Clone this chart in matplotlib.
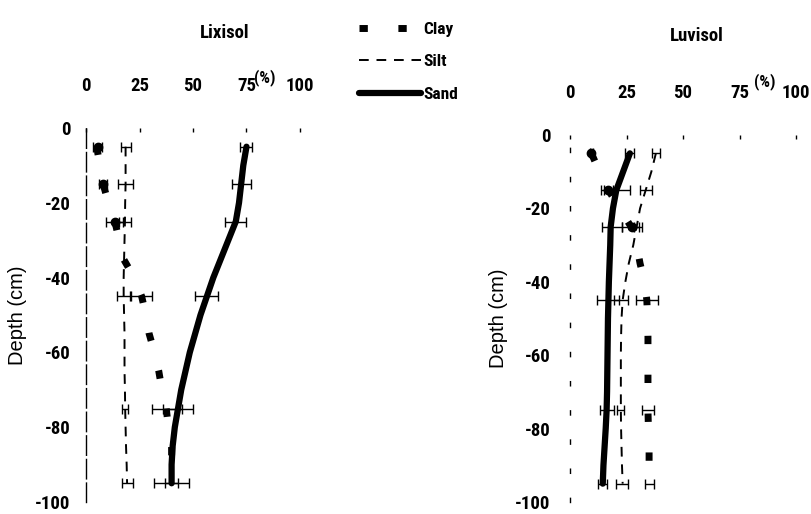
import matplotlib
matplotlib.use("Agg")
import matplotlib.pyplot as plt
from matplotlib.lines import Line2D
from matplotlib import font_manager

# pick a narrow sans face if one is installed
_fonts = font_manager.fontManager.ttflist
_names = {f.name for f in _fonts}
_family = None
for cand in ['Liberation Sans Narrow', 'Arial Narrow', 'Roboto Condensed', 'Open Sans Condensed']:
    if cand in _names:
        _family = cand
        break
if _family is None and any(f.name == 'DejaVu Sans' and f.stretch == 'condensed' for f in _fonts):
    _family = 'DejaVu Sans'
    plt.rcParams['font.stretch'] = 'condensed'
if _family is None:
    _family = 'Liberation Sans'
plt.rcParams['font.family'] = [_family, 'DejaVu Sans']
plt.rcParams['axes.unicode_minus'] = False

# ---------------- data ----------------
depth = [-5, -10, -15, -20, -25, -30, -35, -40, -45, -50, -55, -60, -65, -70, -75, -80, -85, -90, -95]

# Lixisol profile lines
lix_sand = [75, 73.5, 72.5, 71.5, 70, 66.5, 63, 59.5, 56.5, 53.5, 51, 48.5, 46.5, 44.5, 43, 41.5, 40.5, 40, 40]
lix_silt = [18.5, 18.5, 18.5, 18.3, 18.2, 18, 17.8, 17.6, 17.6, 17.8, 18, 18, 18, 18.2, 18.3, 18.5, 18.7, 19, 19.2]
lix_clay = [5, 6.5, 8, 10.5, 13.5, 15.5, 17.5, 22.5, 26, 28, 29.5, 32, 34, 35.5, 37.5, 38.5, 40, 40, 40]

# Luvisol profile lines
luv_sand = [26.5, 23.5, 20.5, 19, 18, 17.8, 17.5, 17.2, 17, 16.8, 16.7, 16.6, 16.5, 16.4, 16.2, 15.8, 15.3, 14.8, 14.5]
luv_silt = [38, 36, 33.5, 31, 29.5, 28, 26, 24.5, 23.3, 22.8, 22.6, 22.5, 22.5, 22.5, 22.5, 22.6, 22.8, 23, 23.3]
luv_clay = [9.5, 13, 17, 22, 27, 29.5, 31, 33, 34, 34.3, 34.5, 34.5, 34.5, 34.5, 34.5, 34.7, 35, 35, 35]

# sampled depths with error bars
err_depth = [-5, -15, -25, -45, -75, -95]
lix_clay_m = [5.5, 8, 13.5, 26, 38, 40]
lix_clay_e = [2, 2, 4, 5, 7, 3]
lix_silt_m = [18.7, 18.5, 18.2, 17.6, 18.3, 19.4]
lix_silt_e = [2.5, 3.5, 3, 3, 1.3, 2.5]
lix_sand_m = [74.8, 72.6, 70, 56.3, 43, 40]
lix_sand_e = [2.7, 4.4, 5, 5.4, 7, 8]

luv_clay_m = [9.5, 17, 27.4, 34, 34.5, 35]
luv_clay_e = [0.8, 2, 4.5, 5, 2.5, 2]
luv_silt_m = [38, 33.6, 29.5, 22.5, 22.5, 23]
luv_silt_e = [1.8, 2.7, 1, 3, 1.5, 2.5]
luv_sand_m = [26.5, 20, 18.5, 16.8, 16.3, 14.5]
luv_sand_e = [2, 6.5, 4.5, 5, 3, 2]

xticks = [0, 25, 50, 75, 100]
yticks = [0, -20, -40, -60, -80, -100]

# ---------------- figure ----------------
W, H = 811, 514
fig = plt.figure(figsize=(W / 100, H / 100), dpi=100)


def px_axes(x0, x1, ytop, ybot):
    return fig.add_axes([x0 / W, 1 - ybot / H, (x1 - x0) / W, (ybot - ytop) / H])


ax1 = px_axes(86, 300, 128, 502)
ax2 = px_axes(570, 796, 135, 502)

clay_kw = dict(color='black', lw=5, linestyle=(0, (1.2, 4.4)), dash_capstyle='butt')
silt_kw = dict(color='black', lw=1.4, linestyle=(0, (5, 4)))
sand_kw = dict(color='black', lw=4.5, solid_capstyle='round')
err_kw = dict(fmt='none', ecolor='black', elinewidth=1, capsize=3.5, capthick=1)


def panel(ax, clay, silt, sand, cm, ce, sm, se, dm, de, title, tx, ty, px, py, ypad, spine_ls):
    ax.plot(clay, depth, **clay_kw)
    ax.plot(silt, depth, **silt_kw)
    ax.plot(sand, depth, **sand_kw)
    ax.plot(cm[:3], err_depth[:3], 'o', color='black', ms=6)
    ax.errorbar(cm, err_depth, xerr=ce, **err_kw)
    ax.errorbar(sm, err_depth, xerr=se, **err_kw)
    ax.errorbar(dm, err_depth, xerr=de, **err_kw)
    ax.set_xlim(0, 100)
    ax.set_ylim(-100, 0)
    ax.xaxis.tick_top()
    ax.set_xticks(xticks)
    ax.set_yticks(yticks)
    ax.tick_params(axis='x', length=3, width=1, direction='in', pad=24, labelsize=13.5)
    ax.tick_params(axis='y', length=0, pad=ypad, labelsize=13.5)
    for lab in ax.get_xticklabels() + ax.get_yticklabels():
        lab.set_fontweight('bold')
    for s in ['top', 'right', 'bottom']:
        ax.spines[s].set_visible(False)
    ax.spines['left'].set_linestyle(spine_ls)
    ax.spines['left'].set_linewidth(1.0)
    ax.set_ylabel('Depth (cm)', fontsize=14.5, family=['Liberation Sans', 'DejaVu Sans'])
    ax.yaxis.set_label_coords(-0.275, 0.5)
    ax.text(tx, ty, title, transform=ax.transAxes, ha='center', va='baseline',
            fontsize=13.5, fontweight='bold')
    ax.text(px, py, '(%)', transform=ax.transAxes, ha='center', va='center',
            fontsize=12, fontweight='bold')


panel(ax1, lix_clay, lix_silt, lix_sand, lix_clay_m, lix_clay_e, lix_silt_m, lix_silt_e,
      lix_sand_m, lix_sand_e, 'Lixisol', 0.65, 1.24, 0.836, 1.135, 11, (0, (14, 3)))
panel(ax2, luv_clay, luv_silt, luv_sand, luv_clay_m, luv_clay_e, luv_silt_m, luv_silt_e,
      luv_sand_m, luv_sand_e, 'Luvisol', 0.56, 1.257, 0.863, 1.145, 14, (0, (3, 18)))

handles = [Line2D([], [], **clay_kw), Line2D([], [], **silt_kw), Line2D([], [], **sand_kw)]
leg = fig.legend(handles, ['Clay', 'Silt', 'Sand'], loc='upper left',
                 bbox_to_anchor=(343 / W, 1 - 6 / H), frameon=False,
                 handlelength=3.6, handletextpad=0.15, labelspacing=1.0,
                 prop={'size': 12.5, 'weight': 'bold'})

fig.savefig('out.png', dpi=100)
